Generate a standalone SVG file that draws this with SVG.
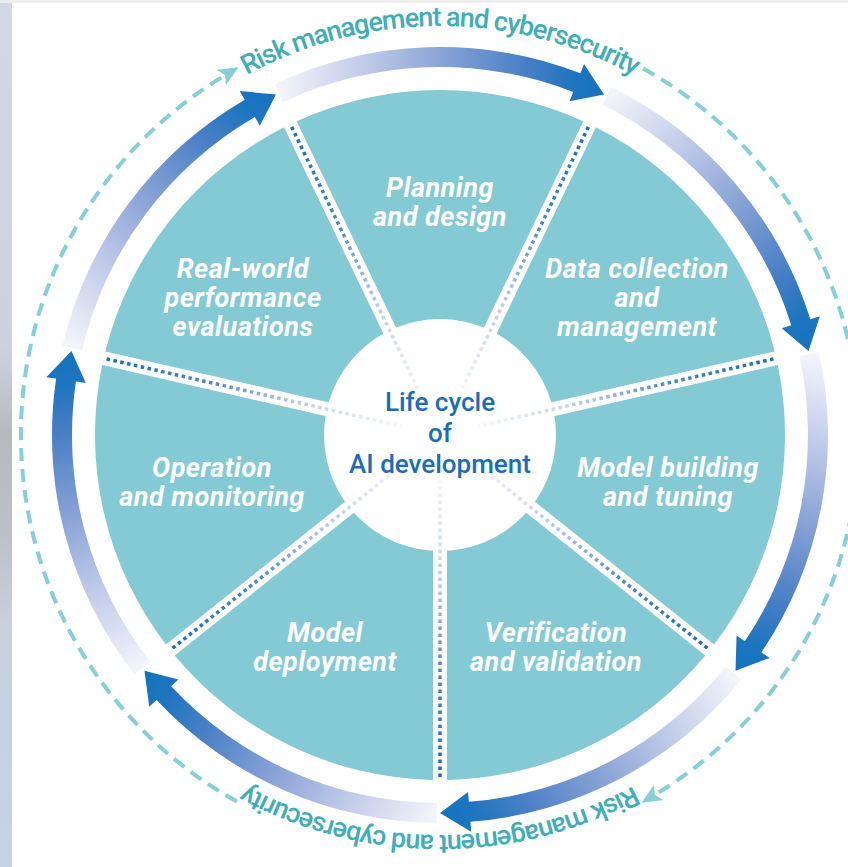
<svg xmlns="http://www.w3.org/2000/svg" xmlns:xlink="http://www.w3.org/1999/xlink" width="848" height="867" viewBox="0 0 848 867">
<style>
.wedge{fill:#84cad5}
.lbl{font-family:Roboto,"Open Sans","Liberation Sans",sans-serif;font-weight:700;font-style:italic;font-size:27px;letter-spacing:0.5px;fill:#ffffff;text-anchor:middle}
.ctr{font-family:Roboto,"Open Sans","Liberation Sans",sans-serif;font-weight:500;font-size:26px;fill:#1a6db6;text-anchor:middle}
.ring{font-family:Roboto,"Open Sans","Liberation Sans",sans-serif;font-weight:500;font-size:27px;letter-spacing:-1.1px;fill:#40adb7}
.dash{fill:none;stroke:#86cfd6;stroke-width:4;stroke-dasharray:13 8}
.dots{stroke:url(#dotg);stroke-width:3.5;stroke-dasharray:3.5 3.5}
</style>
<defs>
<linearGradient id="bgstrip" x1="0" y1="0" x2="0" y2="1">
<stop offset="0" stop-color="#d2d8e3"/>
<stop offset="0.4" stop-color="#cdd3de"/>
<stop offset="0.5" stop-color="#b8b9bd"/>
<stop offset="0.62" stop-color="#bcc0c8"/>
<stop offset="0.72" stop-color="#c9d0dc"/>
<stop offset="1" stop-color="#c5d2e6"/>
</linearGradient>
<linearGradient id="arrg" gradientUnits="userSpaceOnUse" x1="-293.5" y1="-238.2" x2="0" y2="-378">
<stop offset="0" stop-color="#f4f5fb"/>
<stop offset="0.25" stop-color="#c3cdea"/>
<stop offset="0.5" stop-color="#8aa3d6"/>
<stop offset="0.75" stop-color="#4a80c6"/>
<stop offset="0.9" stop-color="#1f75bf"/>
<stop offset="1" stop-color="#1373be"/>
</linearGradient>
<linearGradient id="dotg" gradientUnits="userSpaceOnUse" x1="0" y1="-342" x2="0" y2="-40">
<stop offset="0" stop-color="#1a6cc0"/>
<stop offset="0.35" stop-color="#4a85ca"/>
<stop offset="0.62" stop-color="#b3c2e8"/>
<stop offset="0.8" stop-color="#d9e0f3"/>
<stop offset="1" stop-color="#f6f7fc"/>
</linearGradient>
<path id="wedge" d="M0,-16.13 L143.35,-313.81 A345,345 0 0 0 -143.35,-313.81 Z"/>
<path id="arrow" d="M-301.23,-244.54 A388,388 0 0 1 -30.44,-386.80 L-31.23,-396.77 L0,-378 L-28.09,-356.90 L-28.87,-366.87 A368,368 0 0 0 -285.70,-231.94 Z"/>
<line id="dl" x1="0" y1="-342" x2="0" y2="-40"/>
<marker id="dhead" markerUnits="userSpaceOnUse" markerWidth="20" markerHeight="20" viewBox="0 0 18 16" refX="3" refY="8" orient="auto">
<path d="M0,0 L18,8 L0,16 L4,8 Z" fill="#86cfd6"/>
</marker>
<path id="tp1" d="M440,835 A404.5,404.5 0 0 1 440,26 A404.5,404.5 0 0 1 440,835"/>
<path id="tp2" d="M440,26 A404.5,404.5 0 0 1 440,835 A404.5,404.5 0 0 1 440,26"/>
</defs>
<rect width="848" height="867" fill="#ffffff"/>
<rect x="0" y="0" width="12" height="867" fill="url(#bgstrip)"/>
<rect x="0" y="0" width="848" height="3" fill="#eeeeee"/>

<g id="node-planning">
<use href="#wedge" class="wedge" transform="translate(440 435)"/>
<text class="lbl"><tspan x="440" y="197">Planning</tspan><tspan x="440" y="226">and design</tspan></text>
</g>
<g id="node-data">
<use href="#wedge" class="wedge" transform="translate(440 435) rotate(51.4286)"/>
<text class="lbl"><tspan x="637" y="278">Data collection</tspan><tspan x="637" y="307">and</tspan><tspan x="637" y="336">management</tspan></text>
</g>
<g id="node-building">
<use href="#wedge" class="wedge" transform="translate(440 435) rotate(102.857)"/>
<text class="lbl"><tspan x="668" y="477">Model building</tspan><tspan x="668" y="506">and tuning</tspan></text>
</g>
<g id="node-verification">
<use href="#wedge" class="wedge" transform="translate(440 435) rotate(154.286)"/>
<text class="lbl"><tspan x="556" y="642">Verification</tspan><tspan x="556" y="671">and validation</tspan></text>
</g>
<g id="node-deployment">
<use href="#wedge" class="wedge" transform="translate(440 435) rotate(205.714)"/>
<text class="lbl"><tspan x="325" y="642">Model</tspan><tspan x="325" y="671">deployment</tspan></text>
</g>
<g id="node-operation">
<use href="#wedge" class="wedge" transform="translate(440 435) rotate(257.143)"/>
<text class="lbl"><tspan x="212" y="477">Operation</tspan><tspan x="212" y="506">and monitoring</tspan></text>
</g>
<g id="node-realworld">
<use href="#wedge" class="wedge" transform="translate(440 435) rotate(308.571)"/>
<text class="lbl"><tspan x="243" y="278">Real-world</tspan><tspan x="243" y="307">performance</tspan><tspan x="243" y="336">evaluations</tspan></text>
</g>

<g id="node-center">
<circle cx="440" cy="435" r="116" fill="#ffffff"/>
</g>

<g id="dividers">
<use href="#dl" class="dots" transform="translate(440 435) rotate(25.714)"/>
<use href="#dl" class="dots" transform="translate(440 435) rotate(77.143)"/>
<use href="#dl" class="dots" transform="translate(440 435) rotate(128.571)"/>
<use href="#dl" class="dots" transform="translate(440 435) rotate(180)"/>
<use href="#dl" class="dots" transform="translate(440 435) rotate(231.429)"/>
<use href="#dl" class="dots" transform="translate(440 435) rotate(282.857)"/>
<use href="#dl" class="dots" transform="translate(440 435) rotate(334.286)"/>
</g>

<g id="center-label">
<text class="ctr"><tspan x="440" y="411">Life cycle</tspan><tspan x="440" y="442">of</tspan><tspan x="440" y="473">AI development</tspan></text>
</g>

<g id="connectors">
<use href="#arrow" fill="url(#arrg)" transform="translate(440 435) rotate(25.714)"/>
<use href="#arrow" fill="url(#arrg)" transform="translate(440 435) rotate(77.143)"/>
<use href="#arrow" fill="url(#arrg)" transform="translate(440 435) rotate(128.571)"/>
<use href="#arrow" fill="url(#arrg)" transform="translate(440 435) rotate(180)"/>
<use href="#arrow" fill="url(#arrg)" transform="translate(440 435) rotate(231.429)"/>
<use href="#arrow" fill="url(#arrg)" transform="translate(440 435) rotate(282.857)"/>
<use href="#arrow" fill="url(#arrg)" transform="translate(440 435) rotate(334.286)"/>
<path class="dash" d="M643.1,68.5 A419,419 0 0 1 655.8,794.2" marker-end="url(#dhead)"/>
<path class="dash" d="M643.1,68.5 A419,419 0 0 1 655.8,794.2" marker-end="url(#dhead)" transform="rotate(180 440 435)"/>
</g>

<g id="ring-labels">
<text class="ring"><textPath href="#tp1" startOffset="50%" text-anchor="middle">Risk management and cybersecurity</textPath></text>
<text class="ring"><textPath href="#tp2" startOffset="50%" text-anchor="middle">Risk management and cybersecurity</textPath></text>
</g>
</svg>
